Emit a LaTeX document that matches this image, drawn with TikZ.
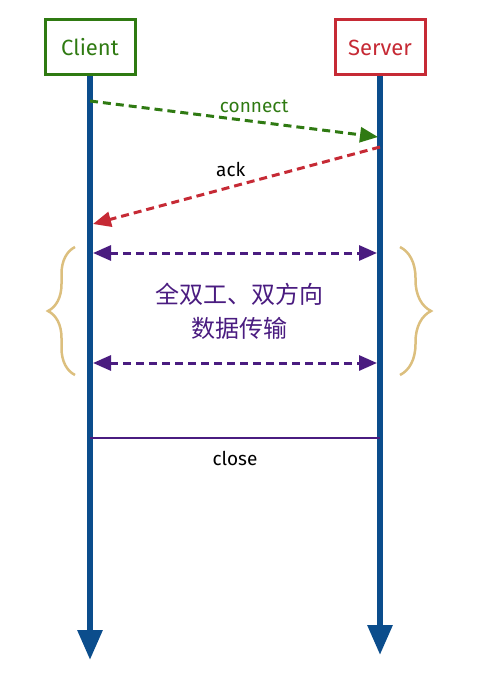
\documentclass[tikz,border=0pt]{standalone}
\usepackage{fontspec}
\setmainfont{Fira Sans}
\newfontfamily\cjk{Noto Sans CJK SC}
\usetikzlibrary{arrows.meta,decorations.pathreplacing}
\definecolor{cgreen}{HTML}{2F7A12}
\definecolor{cred}{HTML}{C62A35}
\definecolor{cblue}{HTML}{0B4D8C}
\definecolor{cpurple}{HTML}{4A1C80}
\definecolor{cbrace}{HTML}{DCBF7E}
\tikzset{
  actor/.style={draw=#1, text=#1, line width=3pt, minimum width=90pt, minimum height=55pt, inner sep=0pt, font=\fontsize{22}{26}\selectfont},
  lifeline/.style={draw=cblue, line width=6pt, -{Triangle[length=30pt,width=24pt]}},
  msg/.style={line width=3pt, dash pattern=on 8pt off 5pt},
  msgtip/.tip={Triangle[length=18pt,width=15pt]},
  lbl/.style={font=\fontsize{19}{22}\selectfont},
  bracestyle/.style={draw=cbrace, line width=2.5pt, decorate, decoration={brace, amplitude=#1, aspect=0.5}}
}
\begin{document}
\begin{tikzpicture}[x=1pt,y=-1pt]
\useasboundingbox (0,0) rectangle (492,679);
% actors
\node[actor=cgreen] (client) at (90,47.5) {Client};
\node[actor=cred] (server) at (380,47.5) {Server};
% lifeline ends
\coordinate (cend) at (90,660);
\coordinate (send) at (380,655);
\draw[lifeline] (client.south) -- (cend);
\draw[lifeline] (server.south) -- (send);
% message points
\coordinate (c1) at (90,101);
\coordinate (s1) at (378,137);
\coordinate (s2) at (380,147);
\coordinate (c2) at (93,224);
\coordinate (c3) at (93,253);
\coordinate (s3) at (377,253);
\coordinate (c4) at (93,363);
\coordinate (s4) at (377,363);
\coordinate (c5) at (90,438);
\coordinate (s5) at (380,438);
% messages
\draw[msg, cgreen, -msgtip] (c1) -- node[lbl, text=cgreen, pos=0.57, above=4pt] (connectlbl) {connect} (s1);
\draw[msg, cred, -msgtip] (s2) -- node[lbl, text=black, pos=0.52, above=5pt] (acklbl) {ack} (c2);
\draw[msg, cpurple, msgtip-msgtip] (c3) -- (s3);
\draw[msg, cpurple, msgtip-msgtip] (c4) -- (s4);
\node[text=cpurple, align=center, font=\cjk\fontsize{24}{34}\selectfont] (dup) at (239,311) {全双工、双方向\\数据传输};
\draw[cpurple, line width=2pt] (c5) -- node[lbl, text=black, below=9pt] (closelbl) {close} (s5);
% braces
\coordinate (lb1) at (75,375);
\coordinate (lb2) at (75,247);
\coordinate (rb1) at (400,247);
\coordinate (rb2) at (400,375);
\draw[bracestyle=27pt] (lb1) -- (lb2);
\draw[bracestyle=31pt] (rb1) -- (rb2);
\end{tikzpicture}
\end{document}
